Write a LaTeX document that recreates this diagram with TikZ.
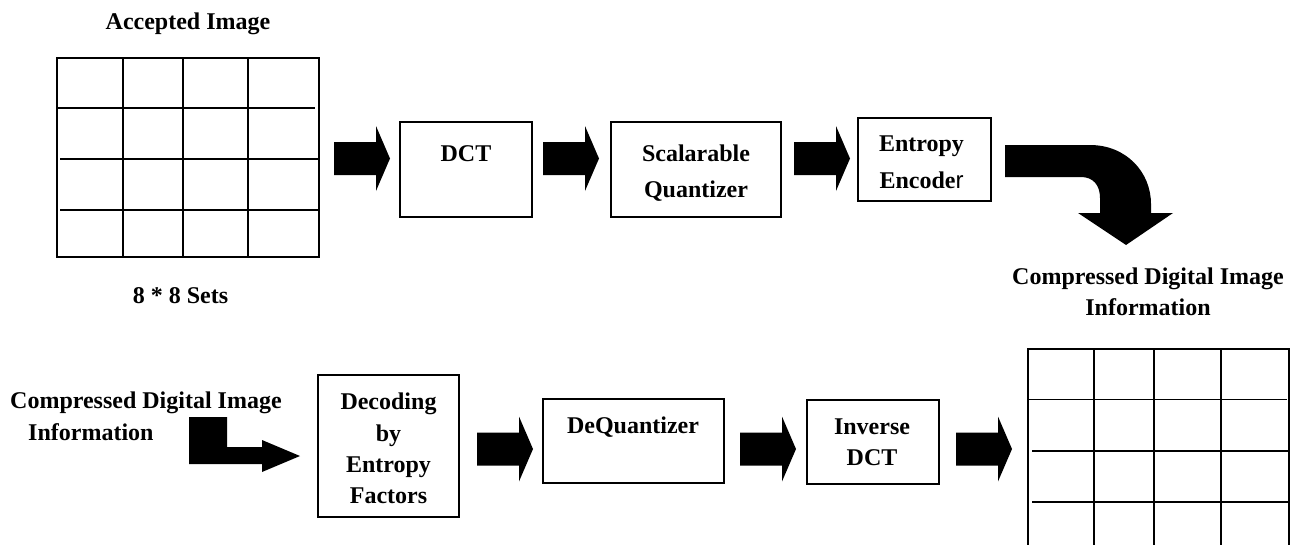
\documentclass[tikz,border=0pt]{standalone}
\usepackage{fontspec}
\setmainfont{Liberation Serif}
\newfontfamily\arialfont{Liberation Sans}
\begin{document}
\begin{tikzpicture}[x=1pt,y=-1pt,
  txt/.style={font=\bfseries\fontsize{24}{28}\selectfont, inner sep=0pt, anchor=base},
  procbox/.style={draw, line width=1.6pt, inner sep=0pt, rectangle},
  gridframe/.style={draw, line width=1.6pt, inner sep=0pt, rectangle},
  gridline/.style={line width=1.6pt},
  blockarrow/.pic={
    \fill (0,-16.5) -- (42,-16.5) -- (42,-32.5) -- (56,0) -- (42,32.5) -- (42,16.5) -- (0,16.5) -- cycle;
  }]
\useasboundingbox (0,0) rectangle (1290,544);
\clip (0,0) rectangle (1290,544);

% ---------- input image as 8x8 blocks ----------
\node[txt] (acc) at (188,29.5) {Accepted Image};
\node[gridframe, minimum width=262, minimum height=199] (gin) at (188,157.5) {};
\foreach \x in {123,183,248} \draw[gridline] (\x,58) -- (\x,257);
\draw[gridline] (57,108) -- (315,108);
\draw[gridline] (60,159) -- (319,159);
\draw[gridline] (60,210) -- (319,210);
\node[txt] (sets) at (180.5,303) {8 * 8 Sets};

% ---------- encoder chain ----------
\node[procbox, minimum width=132, minimum height=95] (dct) at (466,169.5) {};
\node[txt] (dctA) at (466,161.6) {DCT};

\node[procbox, minimum width=170, minimum height=95] (sq) at (696,169.5) {};
\node[txt] (sqA) at (696,161.6) {Scalarable};
\node[txt] (sqB) at (696,197) {Quantizer};

\node[procbox, minimum width=133, minimum height=83] (ent) at (924.5,159.5) {};
\node[txt] (entA) at (921.5,151.7) {Entropy};
\node[txt] (entB) at (921.5,188) {Encode{\arialfont\mdseries r}};

\pic at (334,158.5) {blockarrow};
\pic at (543,158.5) {blockarrow};
\pic at (794,158.5) {blockarrow};

% curved arrow down to the compressed data
\fill (1005,145) -- (1090,145) .. controls (1126,145) and (1151,172) .. (1151,204)
  -- (1151,213) -- (1173,213) -- (1126,245) -- (1078,213) -- (1100,213) -- (1100,198)
  .. controls (1100,185) and (1093,177) .. (1081,177) -- (1005,177) -- cycle;

\node[txt] (cmpA) at (1148,284) {Compressed Digital Image};
\node[txt] (cmpB) at (1148,315) {Information};

% ---------- decoder chain ----------
\node[txt, anchor=base west] (inA) at (10,408) {Compressed Digital Image};
\node[txt, anchor=base west] (inB) at (28,440) {Information};

\fill (189,417) -- (227,417) -- (227,447) -- (262,447) -- (262,440) -- (300,456)
  -- (262,472) -- (262,464) -- (189,464) -- cycle;

\node[procbox, minimum width=141, minimum height=142] (dec) at (388.5,446) {};
\node[txt] (decA) at (388.5,409) {Decoding};
\node[txt] (decB) at (388.5,441.7) {by};
\node[txt] (decC) at (388.5,472.7) {Entropy};
\node[txt] (decD) at (388.5,503) {Factors};

\node[procbox, minimum width=181, minimum height=84] (deq) at (633.5,441) {};
\node[txt] (deqA) at (633,433) {DeQuantizer};

\node[procbox, minimum width=132, minimum height=84] (inv) at (873,442) {};
\node[txt] (invA) at (872,434) {Inverse};
\node[txt] (invB) at (872,465.7) {DCT};

\pic at (477,449) {blockarrow};
\pic at (740,449) {blockarrow};
\pic at (956,449) {blockarrow};

% ---------- reconstructed image blocks ----------
\node[gridframe, minimum width=261, minimum height=202] (gout) at (1158.5,450) {};
\foreach \x in {1094,1154,1221} \draw[gridline] (\x,349) -- (\x,551);
\draw[gridline] (1028,399.5) -- (1287,399.5);
\draw[gridline] (1032,451) -- (1289,451);
\draw[gridline] (1032,502) -- (1289,502);
\end{tikzpicture}
\end{document}
